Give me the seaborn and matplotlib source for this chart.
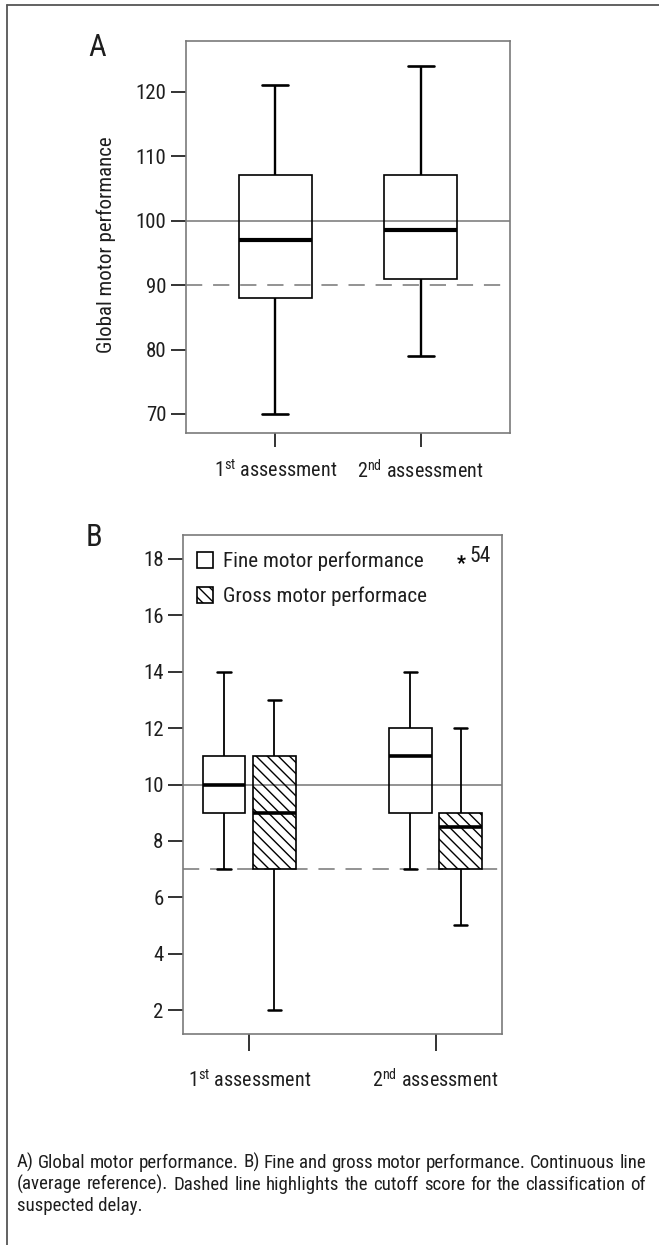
"""
plot.py
Box plots of global, fine and gross motor performance at two assessments.
"""

import pandas as pd
import matplotlib.pyplot as plt
import matplotlib.patches as mpatches
from matplotlib.lines import Line2D
from matplotlib import font_manager
import seaborn as sns

W, H = 659, 1245

# ── data ─────────────────────────────────────────────────────────────────────
assessments = ["1st", "2nd"]
tick_labels = [r"1$^{\mathrm{st}}$ assessment", r"2$^{\mathrm{nd}}$ assessment"]

# panel A: lower whisker, Q1, median, Q3, upper whisker
global_1st = [70, 88, 97, 107, 121]
global_2nd = [79, 91, 98.5, 107, 124]

# panel B
fine_1st = [7, 9, 10, 11, 14]
gross_1st = [2, 7, 9, 11, 13]
fine_2nd = [7, 9, 11, 12, 14]
gross_2nd = [5, 7, 7, 8, 8.5, 9, 9, 12, 18]   # 18 = extreme case 54
outlier_case = "54"
outlier_value = 18

types = ["Fine", "Gross"]
legend_labels = ["Fine motor performance", "Gross motor performace"]

ref_A, cut_A = 100, 90
ref_B, cut_B = 10, 7
yticks_A = [70, 80, 90, 100, 110, 120]
yticks_B = [2, 4, 6, 8, 10, 12, 14, 16, 18]

caption_lines = [
    "A) Global motor performance. B) Fine and gross motor performance. Continuous line",
    "(average reference). Dashed line highlights the cutoff score for the classification of",
    "suspected delay.",
]

dfA = pd.DataFrame({
    "assessment": ["1st"] * len(global_1st) + ["2nd"] * len(global_2nd),
    "score": global_1st + global_2nd,
})
rows = []
for a, t, vals in [("1st", "Fine", fine_1st), ("1st", "Gross", gross_1st),
                   ("2nd", "Fine", fine_2nd), ("2nd", "Gross", gross_2nd)]:
    rows += [(a, t, v) for v in vals]
dfB = pd.DataFrame(rows, columns=["assessment", "type", "score"])

# ── style ───────────────────────────────────────────────────────────────────
sns.set_style("white")
avail = {f.name for f in font_manager.fontManager.ttflist}
FONT, K = "Liberation Sans", 0.85          # scale sizes down for a wide font
for name in ["Roboto Condensed", "Liberation Sans Narrow", "Open Sans Condensed", "Arial Narrow"]:
    if name in avail:
        FONT, K = name, 1.0
        break
plt.rcParams["font.family"] = [FONT, "DejaVu Sans"]
plt.rcParams["mathtext.fontset"] = "custom"
plt.rcParams["mathtext.rm"] = FONT
plt.rcParams["mathtext.it"] = FONT
plt.rcParams["hatch.linewidth"] = 1.0

TXT = "#1e1e1e"
SPINE = "#7a7a7a"
REF = "#8a8a8a"
HATCH = "\\\\\\"

fig = plt.figure(figsize=(W / 100, H / 100), dpi=100)


def style_axes(ax):
    for s in ax.spines.values():
        s.set_visible(True)
        s.set_color(SPINE)
        s.set_linewidth(1.2)
    ax.tick_params(axis="y", left=True, direction="out", length=11, width=1.4,
                   color="#333333", pad=3, labelsize=15 * K, labelcolor=TXT)
    ax.tick_params(axis="x", bottom=True, direction="out", length=10, width=1.4,
                   color="#333333", labelsize=14.5 * K, labelcolor=TXT)
    ax.set_xlabel("")


# ── A: global motor performance ─────────────────────────────────────────────
axA = fig.add_axes([186 / W, 1 - 432.5 / H, 324 / W, (432.5 - 40.7) / H])
sns.boxplot(data=dfA, x="assessment", y="score", order=assessments,
            color="white", linecolor="black", width=0.5, linewidth=1.2,
            capwidths=0.18,
            medianprops=dict(linewidth=3.0),
            whiskerprops=dict(linewidth=1.7),
            capprops=dict(linewidth=1.9), ax=axA)
for p in axA.patches:
    p.set_facecolor("none")
axA.axhline(ref_A, color=REF, lw=1.3, zorder=1)
axA.axhline(cut_A, color=REF, lw=1.3, ls=(0, (9, 6)), zorder=1)
axA.set_ylim(67.13, 127.9)
axA.set_xlim(-0.615, 1.615)
axA.set_yticks(yticks_A)
axA.set_xticks([0, 1])
axA.set_xticklabels(tick_labels)
style_axes(axA)
axA.tick_params(axis="x", pad=9)
axA.set_ylabel("Global motor performance", fontsize=15 * K, color=TXT)
axA.yaxis.set_label_coords(-0.215, 0.479)

# ── B: fine and gross motor performance ─────────────────────────────────────
axB = fig.add_axes([183 / W, 1 - 1034 / H, 318.7 / W, (1034 - 535) / H])
sns.boxplot(data=dfB, x="assessment", y="score", hue="type",
            order=assessments, hue_order=types,
            palette={"Fine": "white", "Gross": "white"}, linecolor="black",
            width=0.54, gap=0.15, linewidth=1.2, capwidths=0.07,
            medianprops=dict(linewidth=2.6),
            whiskerprops=dict(linewidth=1.3),
            capprops=dict(linewidth=1.8),
            flierprops=dict(marker="$*$", markersize=6, markerfacecolor="black",
                            markeredgecolor="black", markeredgewidth=0.2),
            legend=False, ax=axB)
for p in axB.patches:
    cx = p.get_path().vertices[:, 0].mean()
    p.set_facecolor("none")
    if cx - round(cx) > 0:
        p.set_hatch(HATCH)
axB.axhline(ref_B, color=REF, lw=1.3, zorder=1)
axB.axhline(cut_B, color=REF, lw=1.3, ls=(0, (9, 6)), zorder=1)
axB.set_ylim(1.15, 18.85)
axB.set_xlim(-0.355, 1.355)
axB.set_yticks(yticks_B)
axB.set_xticks([0, 1])
axB.set_xticklabels(tick_labels)
style_axes(axB)
axB.tick_params(axis="x", length=12, pad=13)
axB.set_ylabel("")

axB.annotate(outlier_case, xy=(1 + 0.54 / 4, outlier_value), xytext=(6, -2),
             textcoords="offset points", ha="left", va="baseline",
             fontsize=15.5 * K, color=TXT)

handles = [
    mpatches.Patch(facecolor="white", edgecolor="black", linewidth=1.2, label=legend_labels[0]),
    mpatches.Patch(facecolor="white", edgecolor="black", linewidth=1.2, hatch=HATCH,
                   label=legend_labels[1]),
]
axB.legend(handles=handles, frameon=False, loc="upper left",
           bbox_to_anchor=(0.044, 0.967), borderpad=0, borderaxespad=0,
           handlelength=0.78, handleheight=0.78, handletextpad=0.47,
           labelspacing=0.75, fontsize=15.2 * K, labelcolor=TXT)

# panel letters
fig.text(88 / W, 1 - 55.6 / H, "A", fontsize=22 * K, color=TXT, va="baseline")
fig.text(86 / W, 1 - 546 / H, "B", fontsize=22 * K, color=TXT, va="baseline")

# outer frame (left and top edges)
fig.add_artist(Line2D([7 / W, 7 / W], [0, 1 - 5 / H], transform=fig.transFigure,
                      color="#555555", lw=1.3))
fig.add_artist(Line2D([7 / W, 1], [1 - 5 / H, 1 - 5 / H], transform=fig.transFigure,
                      color="#555555", lw=1.3))

# ── caption, justified ──────────────────────────────────────────────────────
fig.canvas.draw()
renderer = fig.canvas.get_renderer()
x_left, x_right = 17, 646
baselines = [1167.5, 1189.5, 1211]
CAP_FS = 13.6 * K
for i, line in enumerate(caption_lines):
    y = 1 - baselines[i] / H
    if i == len(caption_lines) - 1:
        fig.text(x_left / W, y, line, fontsize=CAP_FS, color=TXT, va="baseline")
        continue
    words = line.split()
    texts = [fig.text(0, y, w, fontsize=CAP_FS, color=TXT, va="baseline") for w in words]
    widths = [t.get_window_extent(renderer).width for t in texts]
    gap = (x_right - x_left - sum(widths)) / (len(words) - 1)
    x = x_left
    for t, w in zip(texts, widths):
        t.set_x(x / W)
        x += w + gap

plt.savefig("out.png", dpi=100)
plt.close()
